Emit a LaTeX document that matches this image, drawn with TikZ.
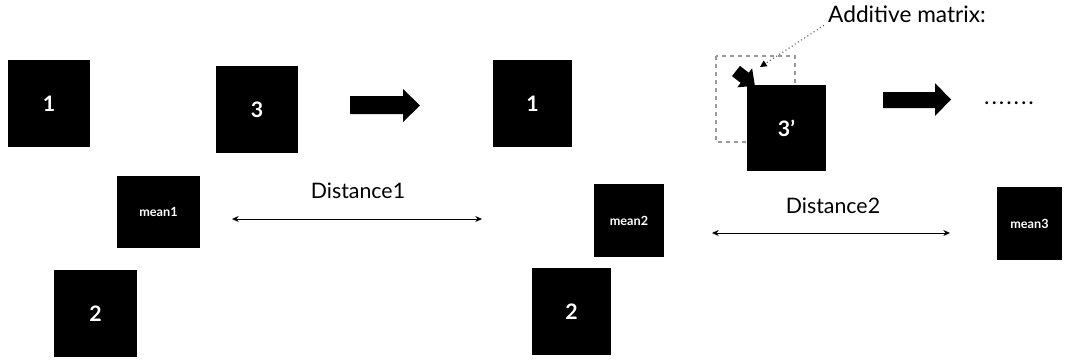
\documentclass[tikz,border=0pt]{standalone}
\usepackage{fontspec}
\setmainfont{Lato}
\usetikzlibrary{arrows.meta}
\begin{document}
\begin{tikzpicture}[x=0.75pt,y=-0.75pt,
  sz/.style 2 args={minimum width=#1*0.75pt, minimum height=#2*0.75pt},
  blk/.style={fill=black, draw=none, text=white, inner sep=0pt, font=\bfseries\fontsize{16}{18}\selectfont},
  mbox/.style={blk, font=\bfseries\fontsize{9.5}{11}\selectfont},
  lbl/.style={font=\fontsize{16}{18}\selectfont, inner sep=0pt},
  dist/.style={{Stealth[length=5pt,width=4.5pt]}-{Stealth[length=5pt,width=4.5pt]}, line width=0.6pt},
  bigarrow/.style={fill=black}
]
\useasboundingbox (0,0) rectangle (1065,362);

% first group
\node[blk, sz={82}{87}] (b1) at (49,103.5) {1};
\node[blk, sz={82}{87}] (b3) at (257,109.5) {3};
\node[mbox, sz={83}{72}] (m1) at (158.5,212) {mean1};
\node[blk, sz={83}{87}] (b2) at (95.5,313.5) {2};

\fill[bigarrow] (350,96) -- (403,96) -- (403,89) -- (420,105.5) -- (403,122) -- (403,114) -- (350,114) -- cycle;

\node[lbl] (d1) at (358,191) {Distance1};
\coordinate (d1l) at (232,219);
\coordinate (d1r) at (482,219);
\draw[dist] (d1l) -- (d1r);

% second group
\node[blk, sz={79}{87}] (c1) at (532.5,103.5) {1};
\node[mbox, sz={70}{73}] (m2) at (629,220.5) {mean2};
\node[blk, sz={79}{87}] (c2) at (571.5,311.5) {2};

\draw[gray!80, dashed, line width=0.8pt] (716,56) rectangle (795,142);
\fill (740,65.9) -- (748.7,72.7) -- (752.1,68.3) -- (754.9,85.8) -- (737.3,87.3) -- (740.7,82.9) -- (732,76.1) -- cycle;
\node[blk, sz={79}{86}] (c3) at (786.5,128) {3’};

\node[lbl, font=\fontsize{17}{19}\selectfont] (add) at (907,14) {Additive matrix:};
\coordinate (addtip) at (760,67);
\draw[black!65, dotted, line width=0.8pt, -{Triangle[length=5pt,width=5pt,color=black]}] ([xshift=-3pt,yshift=-2pt]add.south west) -- (addtip);

\fill[bigarrow] (883,92) -- (935,92) -- (935,83) -- (951,99.5) -- (935,116) -- (935,108) -- (883,108) -- cycle;
\node[lbl, anchor=base, font=\bfseries\fontsize{14}{16}\selectfont] (dots) at (1009,104) {.\kern2.2pt.\kern2.2pt.\kern2.2pt.\kern2.2pt.\kern2.2pt.\kern2.2pt.};

\node[lbl] (d2) at (833,206) {Distance2};
\coordinate (d2l) at (712,233);
\coordinate (d2r) at (950,233);
\draw[dist] (d2l) -- (d2r);

\node[mbox, sz={65}{73}] (m3) at (1029.5,223.5) {mean3};
\end{tikzpicture}
\end{document}
